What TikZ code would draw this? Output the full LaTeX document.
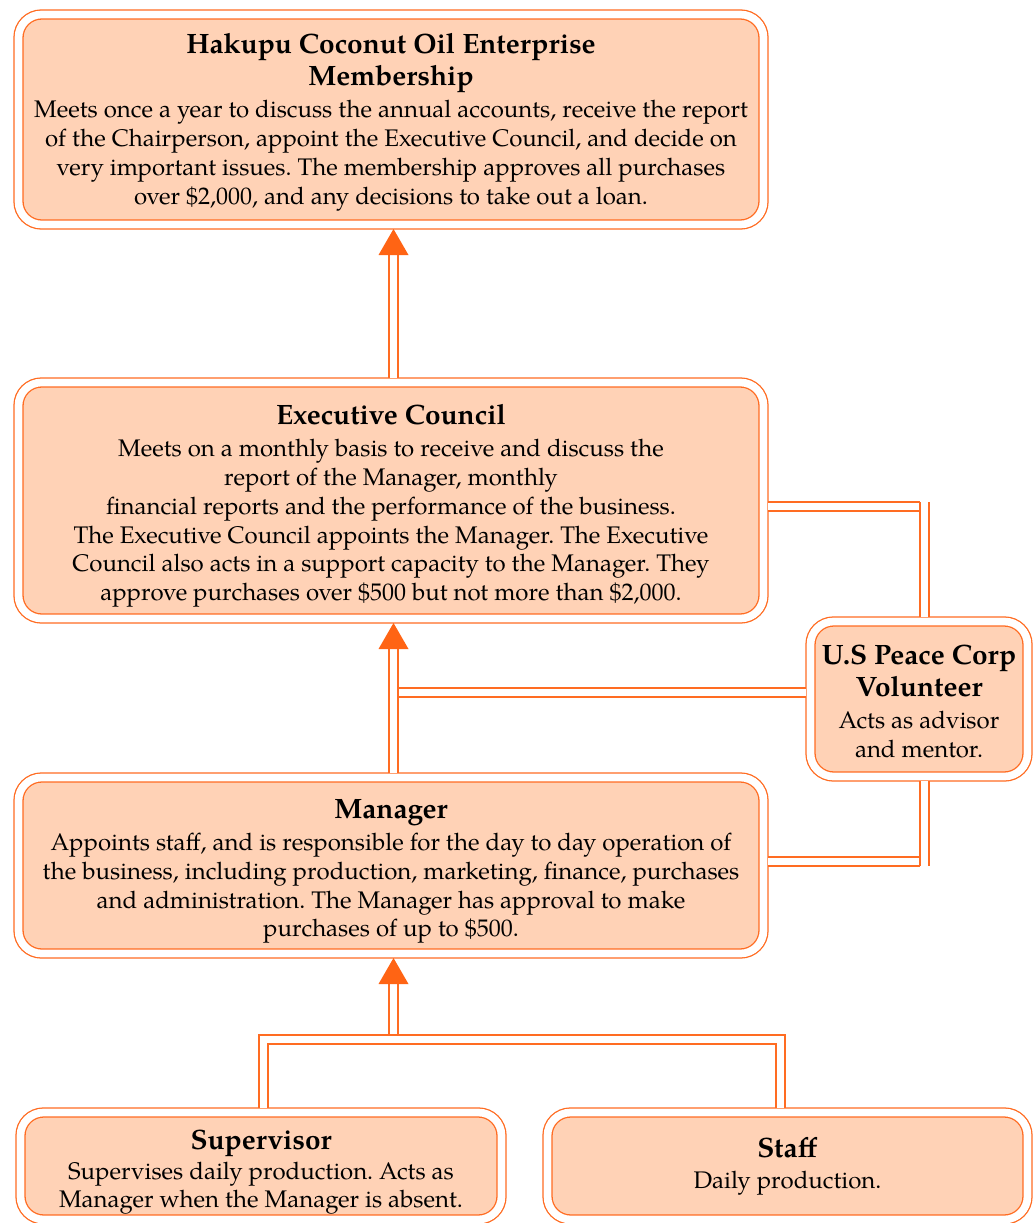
\documentclass[tikz,border=0pt]{standalone}
\usepackage{fontspec}
\setmainfont{texgyrepagella}[Extension=.otf,UprightFont=*-regular,BoldFont=*-bold,ItalicFont=*-italic,BoldItalicFont=*-bolditalic]
\usetikzlibrary{calc}
\frenchspacing
\definecolor{lineorange}{RGB}{255,108,34}
\definecolor{headorange}{RGB}{255,100,20}
\definecolor{peach}{RGB}{255,210,182}
\newcommand\hkTitle{\fontsize{28}{32}\selectfont\bfseries}
\newcommand\hkBody{\fontsize{24}{28.8}\selectfont\mdseries}
\tikzset{
  box/.style={draw=lineorange, fill=peach, double=white, double distance=7.7pt,
    line width=1.3pt, rounded corners=23pt, align=center, outer sep=4.5pt,
    inner sep=0pt, font=\hkBody},
  conn/.style={draw=lineorange, double=white, double distance=7.7pt, line width=1.3pt},
  head/.style={fill=headorange},
}
\begin{document}
\begin{tikzpicture}[x=1pt,y=-1pt]
\useasboundingbox (0,0) rectangle (1033,1223);
\node[box, minimum width=745pt, minimum height=210pt] (mem) at (391,119.5)
 {\rule{0pt}{25pt}\hkTitle Hakupu Coconut Oil Enterprise\\[3.2pt]\hkTitle Membership\\[4pt]
  \hkBody Meets once a year to discuss the annual accounts, receive the report\\
  \hkBody of the Chairperson, appoint the Executive Council, and decide on\\
  \hkBody very important issues. The membership approves all purchases\\
  \hkBody over \$2,000, and any decisions to take out a loan.};
\node[box, minimum width=745pt, minimum height=236pt] (exec) at (391,500.5)
 {\rule{0pt}{31pt}\hkTitle Executive Council\\[3.5pt]
  \hkBody Meets on a monthly basis to receive and discuss the\\
  \hkBody report of the Manager, monthly\\
  \hkBody financial reports and the performance of the business.\\
  \hkBody The Executive Council appoints the Manager. The Executive\\
  \hkBody Council also acts in a support capacity to the Manager. They\\
  \hkBody approve purchases over \$500 but not more than \$2,000.};
\node[box, minimum width=745pt, minimum height=176pt] (man) at (391,865.5)
 {\rule{0pt}{31pt}\hkTitle Manager\\[3.5pt]
  \hkBody Appoints staff, and is responsible for the day to day operation of\\
  \hkBody the business, including production, marketing, finance, purchases\\
  \hkBody and administration. The Manager has approval to make\\
  \hkBody purchases of up to \$500.};
\node[box, minimum width=217pt, minimum height=155pt] (peace) at (919,699)
 {\rule{0pt}{24pt}\hkTitle U.S Peace Corp\\[3.2pt]\hkTitle Volunteer\\[3.2pt]
  \hkBody Acts as advisor\\\hkBody and mentor.};
\node[box, minimum width=481pt, minimum height=107pt] (sup) at (261,1166)
 {\rule{0pt}{32pt}\hkTitle Supervisor\\[1pt]
  \hkBody Supervises daily production. Acts as\\
  \hkBody Manager when the Manager is absent.};
\node[box, minimum width=480pt, minimum height=107pt] (staff) at (787.5,1166)
 {\hkTitle Staff\\[2pt]\hkBody Daily production.};
% arrow exec -> membership
\coordinate (a1) at ([xshift=2.5pt]mem.south);
\draw[conn] ([xshift=2.5pt]exec.north) -- ([yshift=-25pt]a1);
\fill[head] (a1) -- ++(15,26) -- ++(-30,0) -- cycle;
% peace -> manager/exec line
\coordinate (j1) at (398,692.5);
\draw[conn] (peace.west |- j1) -- (j1);
% arrow manager -> exec
\coordinate (a2) at ([xshift=2.5pt]exec.south);
\draw[conn] ([xshift=2.5pt]man.north) -- ([yshift=-25pt]a2);
\fill[head] (a2) -- ++(15,26) -- ++(-30,0) -- cycle;
% exec -- peace
\coordinate (p1) at (924.5,502);
\coordinate (h1) at (920,506.5);
\draw[conn] (exec.east |- h1) -- (h1);
\draw[conn] (p1) -- (peace.north -| p1);
% manager -- peace
\coordinate (p2) at (924.5,866);
\coordinate (h2) at (920,861.5);
\draw[conn] (man.east |- h2) -- (h2);
\draw[conn] (peace.south -| p2) -- (p2);
% arrow bus -> manager
\coordinate (a3) at ([xshift=2.5pt]man.south);
\coordinate (bus) at (393.5,1039.5);
\draw[conn] (bus) -- ([yshift=-25pt]a3);
\fill[head] (a3) -- ++(15,26) -- ++(-30,0) -- cycle;
% bus to supervisor and staff
\coordinate (dl) at (263.5,1039.5);
\coordinate (dr) at (780.5,1039.5);
\draw[conn] (sup.north -| dl) -- (dl) -- (dr) -- (staff.north -| dr);
\end{tikzpicture}
\end{document}
